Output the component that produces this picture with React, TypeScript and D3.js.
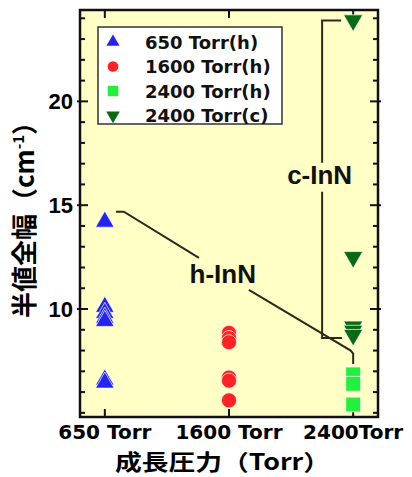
import * as d3 from "d3";
import React, { useEffect, useRef } from "react";

// カテゴリ (成長圧力)
const categories = ["650 Torr", "1600 Torr", "2400Torr"];

// 半値全幅 (cm-1) の値
const hex650 = [14.2, 10.1, 9.8, 9.57, 9.42, 6.6, 6.45];
const hex1600 = [8.85, 8.6, 8.4, 6.7, 6.55, 5.6];
const hex2400 = [6.85, 6.4, 5.4];
const cub2400 = [23.9, 12.5, 9.15, 8.95, 8.75];

const seriesNames = ["650 Torr(h)", "1600 Torr(h)", "2400 Torr(h)", "2400 Torr(c)"];
const seriesColors = ["#2424f0", "#ff2222", "#22f03c", "#0a6a14"];

const yMajorTicks = [10, 15, 20];
const yMinorTicks = d3.range(5, 25);

// 注釈線 (x はカテゴリ番号, y はデータ値)
const hLine1 = [
  [0.09, 14.69],
  [0.153, 14.69],
  [0.758, 12.46],
];
const hLine2 = [
  [1.16, 10.92],
  [1.98, 8.0],
  [2.0, 7.85],
  [2.0, 7.35],
];
const cLine1 = [
  [1.903, 23.9],
  [1.75, 23.9],
  [1.75, 17.05],
];
const cLine2 = [
  [1.75, 15.65],
  [1.75, 8.6],
  [1.91, 8.6],
];
const hLabel = [0.95, 11.26];
const cLabel = [1.73, 16.0];

export default function App() {
  const ref = useRef<SVGSVGElement>(null);

  useEffect(() => {
    const width = 412;
    const height = 477;
    const margin = { top: 10, right: 34, bottom: 60, left: 80 };

    const svg = d3.select(ref.current);
    svg.selectAll("*").remove();

    const x = d3
      .scalePoint()
      .domain(categories)
      .range([margin.left, width - margin.right])
      .padding(0.2);
    const xi = d3
      .scaleLinear()
      .domain([0, 2])
      .range([x(categories[0])!, x(categories[2])!]);
    const y = d3
      .scaleLinear()
      .domain([4.8, 24.4])
      .range([height - margin.bottom, margin.top]);

    const x0 = margin.left;
    const x1 = width - margin.right;
    const y0 = height - margin.bottom;
    const y1 = margin.top;

    // 背景
    svg
      .append("rect")
      .attr("x", x0)
      .attr("y", y1)
      .attr("width", x1 - x0)
      .attr("height", y0 - y1)
      .attr("fill", "#ffffc6");

    // 目盛り (内向き)
    const ticks = svg.append("g").attr("stroke", "#111").attr("stroke-width", 2);
    yMinorTicks.forEach((v) => {
      const major = yMajorTicks.includes(v);
      const len = major ? 8 : 5;
      ticks.append("line").attr("x1", x0 - (major ? 3 : 0)).attr("x2", x0 + len).attr("y1", y(v)).attr("y2", y(v));
      ticks.append("line").attr("x1", x1 + (major ? 3 : 0)).attr("x2", x1 - len).attr("y1", y(v)).attr("y2", y(v));
    });
    categories.forEach((c) => {
      ticks.append("line").attr("x1", x(c)).attr("x2", x(c)).attr("y1", y0).attr("y2", y0 - 8);
      ticks.append("line").attr("x1", x(c)).attr("x2", x(c)).attr("y1", y1).attr("y2", y1 + 8);
    });

    // 目盛りラベル
    svg
      .append("g")
      .selectAll("text")
      .data(yMajorTicks)
      .join("text")
      .attr("x", x0 - 7)
      .attr("y", (d) => y(d) + 8)
      .attr("text-anchor", "end")
      .attr("font-family", "Liberation Sans, Arial")
      .attr("font-weight", "bold")
      .attr("font-size", 22)
      .text((d) => d);

    svg
      .append("g")
      .selectAll("text")
      .data(categories)
      .join("text")
      .attr("x", (d) => x(d)!)
      .attr("y", y0 + 22)
      .attr("text-anchor", "middle")
      .attr("font-family", "DejaVu Sans")
      .attr("font-weight", "bold")
      .attr("font-size", 20)
      .text((d) => d);

    // 軸タイトル
    svg
      .append("text")
      .attr("x", 115)
      .attr("y", y0 + 53)
      .attr("textLength", 215)
      .attr("lengthAdjust", "spacingAndGlyphs")
      .attr("font-family", "Noto Sans CJK JP")
      .attr("font-weight", "bold")
      .attr("font-size", 22)
      .text("成長圧力（Torr）");

    const yTitle = svg
      .append("text")
      .attr("transform", `translate(34,${(y0 + y1) / 2}) rotate(-90)`)
      .attr("text-anchor", "middle")
      .attr("font-family", "Noto Sans CJK JP")
      .attr("font-weight", "bold")
      .attr("font-size", 26);
    yTitle.append("tspan").text("半値全幅（cm");
    yTitle.append("tspan").attr("font-size", 15).attr("dy", -10).text("-1");
    yTitle.append("tspan").attr("dy", 10).text("）");

    // 注釈線
    const line = d3
      .line<number[]>()
      .x((d) => xi(d[0]))
      .y((d) => y(d[1]));
    const notes = svg
      .append("g")
      .attr("fill", "none")
      .attr("stroke", "#2a2a1a")
      .attr("stroke-width", 2);
    [hLine1, hLine2, cLine1, cLine2].forEach((pts) => notes.append("path").attr("d", line(pts)));

    const labelStyle = (t: any) =>
      t
        .attr("text-anchor", "middle")
        .attr("font-family", "Liberation Sans, Arial")
        .attr("font-weight", "bold")
        .attr("font-size", 26)
        .attr("fill", "#111");
    svg.append("text").attr("x", xi(hLabel[0])).attr("y", y(hLabel[1])).call(labelStyle).text("h-InN");
    svg.append("text").attr("x", xi(cLabel[0])).attr("y", y(cLabel[1])).call(labelStyle).text("c-InN");

    // データ点
    const shapes = [
      { type: d3.symbolTriangle, size: 150, rot: 0 },
      { type: d3.symbolCircle, size: 180, rot: 0 },
      { type: d3.symbolSquare, size: 220, rot: 0 },
      { type: d3.symbolTriangle, size: 160, rot: 180 },
    ];
    const series = [
      { cat: categories[0], values: hex650 },
      { cat: categories[1], values: hex1600 },
      { cat: categories[2], values: hex2400 },
      { cat: categories[2], values: cub2400 },
    ];
    series.forEach((s, i) => {
      svg
        .append("g")
        .selectAll("path")
        .data(s.values)
        .join("path")
        .attr("d", d3.symbol(shapes[i].type, shapes[i].size)())
        .attr("transform", (d) => `translate(${x(s.cat)},${y(d)}) rotate(${shapes[i].rot})`)
        .attr("fill", seriesColors[i])
        .attr("stroke", "#ffffff")
        .attr("stroke-opacity", 0.7)
        .attr("stroke-width", 1);
    });

    // 枠
    svg
      .append("rect")
      .attr("x", x0)
      .attr("y", y1)
      .attr("width", x1 - x0)
      .attr("height", y0 - y1)
      .attr("fill", "none")
      .attr("stroke", "#111")
      .attr("stroke-width", 2.5);

    // 凡例
    const legend = svg.append("g");
    legend
      .append("rect")
      .attr("x", 98)
      .attr("y", 27)
      .attr("width", 184)
      .attr("height", 97)
      .attr("fill", "#ffffff")
      .attr("stroke", "#333")
      .attr("stroke-width", 1.5);
    seriesNames.forEach((name, i) => {
      const cy = 42 + i * 24.5;
      legend
        .append("path")
        .attr("d", d3.symbol(shapes[i].type, shapes[i].size * 0.5)())
        .attr("transform", `translate(113,${cy}) rotate(${shapes[i].rot})`)
        .attr("fill", seriesColors[i]);
      legend
        .append("text")
        .attr("x", 145)
        .attr("y", cy + 6.5)
        .attr("font-family", "DejaVu Sans")
        .attr("font-weight", "bold")
        .attr("font-size", 18)
        .attr("fill", "#111")
        .text(name);
    });
  }, []);

  return (
    <svg
      ref={ref}
      width={412}
      height={477}
      style={{ position: "absolute", left: 0, top: 0, background: "#fff" }}
    ></svg>
  );
}
